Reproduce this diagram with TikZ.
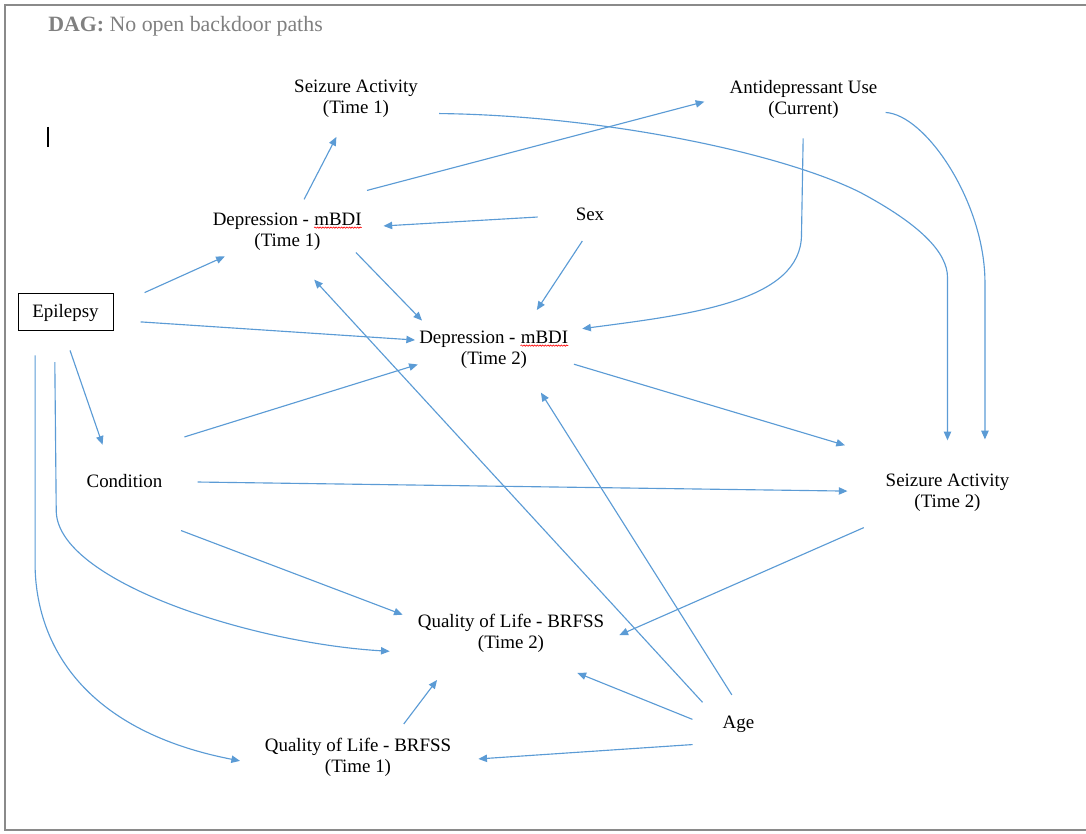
\documentclass[tikz,border=0pt]{standalone}
\usepackage{fontspec}
\setmainfont{Liberation Serif}
\usepackage{tikz}
\usetikzlibrary{arrows.meta,calc,decorations.pathmorphing}
\usepackage{xcolor}
\definecolor{dagblue}{RGB}{91,155,213}
\definecolor{framegray}{RGB}{138,138,138}
\definecolor{titlegray}{RGB}{128,128,128}
\tikzset{
  lbl/.style={inner sep=0pt,align=center,font=\fontsize{14.2pt}{15.8pt}\selectfont},
  boxlbl/.style={lbl,draw=black,line width=0.75pt,minimum width=71.25pt,minimum height=27.75pt},
  arr/.style={-{Triangle[length=6.5pt,width=5.5pt]},draw=dagblue,line width=0.85pt},
  squig/.style={draw=red,line width=0.45pt,decorate,decoration={snake,amplitude=0.5pt,segment length=2pt}},
}
\newcommand{\spell}[1]{\tikz[baseline=(w.base)]{\node[inner sep=0pt] (w) {#1};
  \draw[squig] ([yshift=-1.8pt]w.base west) -- ([yshift=-1.8pt]w.base east);}}

\begin{document}
\begin{tikzpicture}[x=0.75pt,y=-0.75pt]
\useasboundingbox (0,0) rectangle (1086,834);
\draw[framegray,line width=1.5pt] (1090,5) -- (5,5) -- (5,830) -- (1090,830);
\node[anchor=base west,inner sep=0pt,text=titlegray,font=\fontsize{16.4pt}{19pt}\selectfont] (title) at (48,32)
  {\textbf{DAG:} No open backdoor paths};
\draw[line width=0.8pt] (48,127) -- (48,147);

\node[lbl] (sz1) at (356,99) {Seizure Activity\\(Time 1)};
\node[lbl] (anti) at (803.5,99) {Antidepressant Use\\(Current)};
\node[lbl] (dep1) at (287.5,231.5) {Depression - \spell{mBDI}\\(Time 1)};
\node[lbl] (sex) at (590,214) {Sex};
\node[boxlbl] (epi) at (65.5,312.5) {Epilepsy};
\node[lbl] (dep2) at (494,349.5) {Depression - \spell{mBDI}\\(Time 2)};
\node[lbl,inner ysep=5pt] (cond) at (124.5,481) {Condition};
\node[lbl] (sz2) at (947.5,492.5) {Seizure Activity\\(Time 2)};
\node[lbl] (qol2) at (511,633.5) {Quality of Life - BRFSS\\(Time 2)};
\node[lbl,inner ysep=7.5pt] (age) at (738.5,724) {Age};
\node[lbl] (qol1) at (358,757.5) {Quality of Life - BRFSS\\(Time 1)};

\draw[arr,shorten <=11pt,shorten >=15.9pt] (dep1) -- (sz1);
\draw[arr,shorten <=64.8pt,shorten >=19.4pt] (dep1.102) -- (anti.177);
\draw[arr,shorten <=28.5pt,shorten >=15.8pt] (sex) -- (dep1);
\draw[arr,shorten <=18.3pt,shorten >=18.3pt] (sex.311) -- (dep2.33);
\draw[arr,shorten <=2pt,shorten >=10.3pt] (dep1.344) -- (dep2.163);
\draw[arr,shorten <=25.6pt,shorten >=10.7pt] (epi.7) -- (dep1.201);
\draw[arr,shorten <=20.3pt,shorten >=3pt] (epi.351) -- (dep2.173);
\draw[arr,shorten <=15pt,shorten >=10pt] (anti.south) -- ++(-2,116)
  .. controls +(0,67) and +(122,-16) .. (dep2.north east);
\draw[arr,shorten <=6pt,shorten >=25.5pt] (anti.350)
  .. controls +(48,2.5) and +(0,-80) .. ($(sz2.27)+(0,-191)$) -- (sz2.27);
\draw[arr,shorten <=15.8pt,shorten >=24.8pt] (sz1.347)
  .. controls +(182,2) and +(-80,-40) .. ++(442,79)
  .. controls +(60,32) and +(0,-25) .. ($(sz2.north)+(0,-196)$) -- (sz2.north);
\draw[arr,shorten <=3.9pt,shorten >=73.6pt] (dep2.350) -- (sz2.114);
\draw[arr,shorten <=77pt,shorten >=1pt] (cond.north west) -- (dep2.191);
\draw[arr,shorten <=26.3pt,shorten >=28.5pt] (cond) -- (sz2);
\draw[arr,shorten <=76pt,shorten >=12pt] (cond.south west) -- (qol2.172);
\draw[arr,shorten <=15pt,shorten >=18pt] (epi.264) -- (cond.136);
\draw[arr,shorten <=23pt,shorten >=21pt] (epi.240) -- ++(1.7,179)
  .. controls +(0,70) and +(-168,-10) .. (qol2.south west);
\draw[arr,shorten <=18pt,shorten >=18.8pt] (epi.212) -- ++(0,236)
  .. controls +(2,83) and +(-175,-34) .. (qol1.185);
\draw[arr,shorten <=13.2pt,shorten >=25.4pt] (qol1.29) -- (qol2.200);
\draw[arr,shorten <=24.3pt,shorten >=40pt] (age.205) -- (qol2.311);
\draw[arr,shorten <=22.5pt,shorten >=20.3pt] (age.south west) -- (qol1.358);
\draw[arr,shorten <=22.1pt,shorten >=29.6pt] (age.west) -- (dep1.south);
\draw[arr,shorten <=9.4pt,shorten >=21.3pt] (age.north) -- (dep2.329);
\draw[arr,shorten <=29.9pt,shorten >=12.3pt] (sz2.202) -- (qol2.355);
\end{tikzpicture}
\end{document}
